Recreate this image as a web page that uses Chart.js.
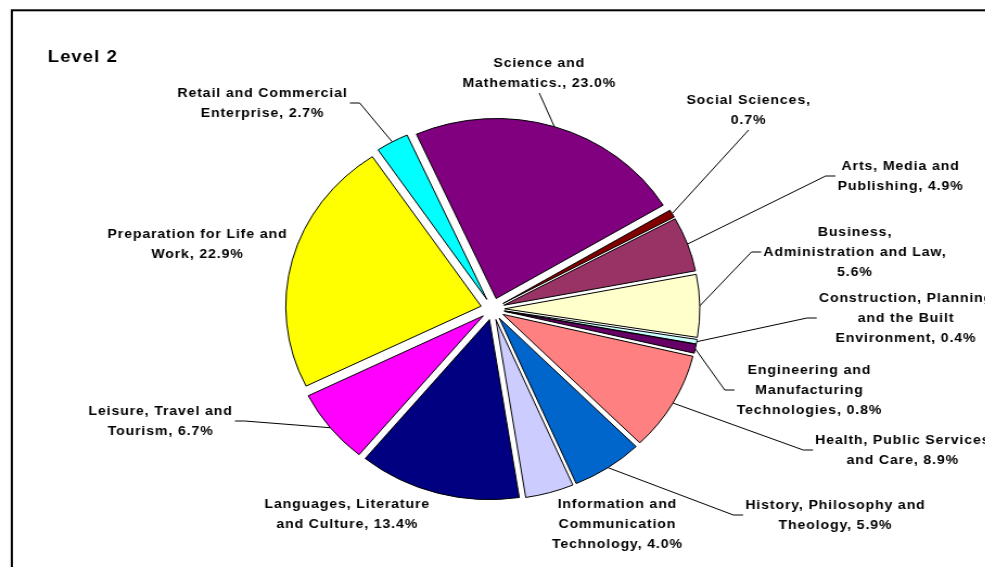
<!DOCTYPE html>
<html>
<head>
<meta charset="utf-8">
<title>Level 2</title>
<script src="https://cdn.jsdelivr.net/npm/chart.js"></script>
<style>
  html, body { margin: 0; padding: 0; background: #fff; overflow: hidden; }
  /* the reference picture is a bit wider than tall, so the whole chart is stretched sideways */
  #wrap { width: 908px; height: 567px; transform: scaleX(1.085); transform-origin: 0 0; }
</style>
</head>
<body>
<div id="wrap"><canvas id="Chart" width="908" height="567"></canvas></div>
<script>
// data, clockwise from the Arts slice
let categories = [
    'Arts, Media and Publishing',
    'Business, Administration and Law',
    'Construction, Planning and the Built Environment',
    'Engineering and Manufacturing Technologies',
    'Health, Public Services and Care',
    'History, Philosophy and Theology',
    'Information and Communication Technology',
    'Languages, Literature and Culture',
    'Leisure, Travel and Tourism',
    'Preparation for Life and Work',
    'Retail and Commercial Enterprise',
    'Science and Mathematics.',
    'Social Sciences'
];
let shares = [4.9, 5.6, 0.4, 0.8, 8.9, 5.9, 4.0, 13.4, 6.7, 22.9, 2.7, 23.0, 0.7];
let sliceColors = ['#993366', '#FFFFCC', '#CCFFFF', '#660066', '#FF8080', '#0066CC',
                   '#CCCCFF', '#000080', '#FF00FF', '#FFFF00', '#00FFFF', '#800080', '#800000'];

// label layout (centre x / first line y, words per line, where the leader line joins)
let labelPos = [
    {x: 830, y: 166}, {x: 788, y: 232}, {x: 835, y: 298}, {x: 746, y: 370},
    {x: 832, y: 440}, {x: 770, y: 505}, {x: 569, y: 504}, {x: 320, y: 504},
    {x: 148, y: 411}, {x: 182, y: 234}, {x: 242, y: 93}, {x: 497, y: 63}, {x: 690, y: 100}
];
let labelWords = [[3, 2], [1, 3, 1], [2, 3, 2], [2, 1, 2], [3, 3], [3, 2], [2, 1, 2],
                  [2, 3], [3, 2], [4, 2], [3, 2], [2, 2], [2, 1]];
let leaderSide = ['left', 'left', 'left', 'left', 'left', 'left', null,
                  null, 'right', null, 'right', 'bottom', 'bottom'];

const EXPLODE = 11;
const LINE_H = 20;
const LABEL_FONT = 'bold 13px "Liberation Sans", Arial, sans-serif';

function labelLines(i) {
    let words = (categories[i] + ', ' + shares[i].toFixed(1) + '%').split(' ');
    let lines = [];
    let k = 0;
    labelWords[i].forEach(function (n) {
        lines.push(words.slice(k, k + n).join(' '));
        k += n;
    });
    return lines;
}

// white page with the frame, and the title
let framePlugin = {
    id: 'frame',
    beforeDraw(chart) {
        let ctx = chart.ctx;
        ctx.save();
        ctx.fillStyle = '#fff';
        ctx.fillRect(0, 0, chart.width, chart.height);
        ctx.strokeStyle = '#000';
        ctx.lineWidth = 2;
        ctx.strokeRect(10.9, 10.3, 2000, 2000);
        ctx.fillStyle = '#000';
        ctx.font = 'bold 17px "Liberation Sans", Arial, sans-serif';
        ctx.letterSpacing = '1px';
        ctx.textBaseline = 'middle';
        ctx.fillText('Level 2', 44, 57);
        ctx.restore();
    }
};

// every slice pulled out a little, like an exploded Excel pie
let explodePlugin = {
    id: 'explode',
    beforeDatasetDraw(chart, args) {
        let ctx = chart.ctx;
        args.meta.data.forEach(function (arc) {
            let mid = (arc.startAngle + arc.endAngle) / 2;
            ctx.save();
            ctx.translate(Math.cos(mid) * EXPLODE, Math.sin(mid) * EXPLODE);
            arc.draw(ctx);
            ctx.restore();
        });
        return false;
    }
};

// data labels with leader lines
let labelPlugin = {
    id: 'pieLabels',
    afterDatasetsDraw(chart) {
        let ctx = chart.ctx;
        let meta = chart.getDatasetMeta(0);
        ctx.save();
        ctx.font = LABEL_FONT;
        ctx.letterSpacing = '0.8px';
        ctx.textAlign = 'center';
        ctx.textBaseline = 'middle';
        ctx.fillStyle = '#000';
        ctx.strokeStyle = '#000';
        ctx.lineWidth = 1;
        meta.data.forEach(function (arc, i) {
            let p = labelPos[i];
            let lines = labelLines(i);
            let w = 0;
            lines.forEach(function (t, j) {
                ctx.fillText(t, p.x, p.y + j * LINE_H);
                w = Math.max(w, ctx.measureText(t).width);
            });
            let side = leaderSide[i];
            if (!side) return;
            let mid = (arc.startAngle + arc.endAngle) / 2;
            let r = arc.outerRadius + EXPLODE;
            let ax = arc.x + Math.cos(mid) * r;
            let ay = arc.y + Math.sin(mid) * r;
            let midY = p.y + (lines.length - 1) * LINE_H / 2;
            ctx.beginPath();
            ctx.moveTo(ax, ay);
            if (side == 'left') {
                let ex = p.x - w / 2 - 2;
                ctx.lineTo(ex - 9, midY);
                ctx.lineTo(ex, midY);
            } else if (side == 'right') {
                let ex = p.x + w / 2 + 2;
                ctx.lineTo(ex + 9, midY);
                ctx.lineTo(ex, midY);
            } else {
                ctx.lineTo(p.x, p.y + (lines.length - 1) * LINE_H + 10);
            }
            ctx.stroke();
        });
        ctx.restore();
    }
};

let ctx = document.getElementById('Chart').getContext('2d');
let myChart = new Chart(ctx, {
    type: 'pie',
    data: {
        labels: categories,
        datasets: [{
            data: shares,
            backgroundColor: sliceColors,
            borderColor: '#000',
            borderWidth: 1,
            borderJoinStyle: 'miter'
        }]
    },
    options: {
        responsive: false,
        animation: false,
        rotation: 61.3,
        radius: 180,
        layout: { padding: { top: 51 } },
        plugins: {
            legend: { display: false },
            tooltip: { enabled: false }
        }
    },
    plugins: [framePlugin, explodePlugin, labelPlugin]
});
</script>
</body>
</html>
